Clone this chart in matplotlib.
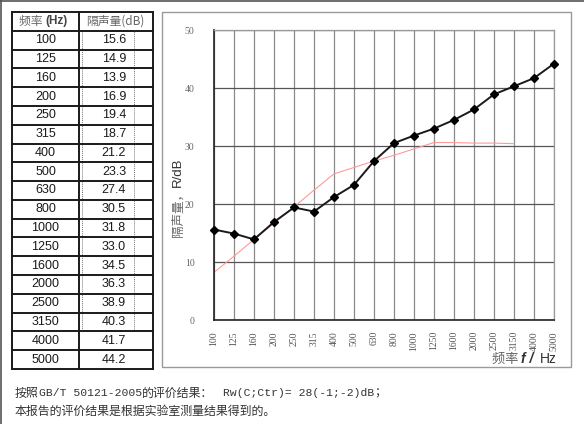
import matplotlib
matplotlib.use("Agg")
import matplotlib.pyplot as plt
from matplotlib.lines import Line2D
from matplotlib.patches import Rectangle

plt.rcParams['font.family'] = ['Noto Sans CJK SC', 'DejaVu Sans']

freq_labels = ["100", "125", "160", "200", "250", "315", "400", "500", "630",
               "800", "1000", "1250", "1600", "2000", "2500", "3150", "4000", "5000"]
insulation = [15.6, 14.9, 13.9, 16.9, 19.4, 18.7, 21.2, 23.3, 27.4,
              30.5, 31.8, 33.0, 34.5, 36.3, 38.9, 40.3, 41.7, 44.2]
reference = [8.2, 11.0, 13.9, 16.7, 19.5, 22.4, 25.2, 26.3, 27.4,
             28.4, 29.5, 30.6, 30.6, 30.5, 30.5, 30.4]
y_ticks = [0, 10, 20, 30, 40, 50]
header = ["频率 (Hz)", "隔声量(dB)"]
# bottom note segments: (text, is_latin, gap before in px)
line1_parts = [("按照", False, 0), ("GB/T 50121-2005", True, 0),
               ("的评价结果：", False, 0), ("Rw(C;Ctr)= 28(-1;-2)dB", True, 10),
               ("；", False, 0)]
line2 = "本报告的评价结果是根据实验室测量结果得到的。"

W, H = 584, 424
fig = plt.figure(figsize=(W / 100, H / 100), dpi=100)
fig.patch.set_facecolor("white")


def box(x0, y0, x1, y1):
    return [x0 / W, 1 - y1 / H, (x1 - x0) / W, (y1 - y0) / H]


def fx(x):
    return x / W


def fy(y):
    return 1 - y / H


fig.add_artist(Line2D([0, 1], [fy(0.5), fy(0.5)], color="#555555", lw=1.2))
fig.add_artist(Line2D([fx(0.5), fx(0.5)], [0, 1], color="#555555", lw=1.2))

# ---------------- table ----------------
tx0, tx1, tcol = 12, 153, 79
ty0, ty1 = 12, 369
nrows = len(freq_labels) + 1
rh = (ty1 - ty0) / nrows
tax = fig.add_axes(box(tx0, ty0, tx1, ty1))
tax.set_xlim(tx0, tx1)
tax.set_ylim(ty1, ty0)
tax.axis("off")
lc = "#1a1a1a"
for i in range(nrows + 1):
    y = ty0 + i * rh
    tax.plot([tx0, tx1], [y, y], color=lc, lw=1.4, clip_on=False)
for xx in (tx0, tcol, tx1):
    tax.plot([xx, xx], [ty0, ty1], color=lc, lw=1.4, clip_on=False)
dy1 = ty0 + rh * (nrows - 2)
tax.add_patch(Rectangle((82, ty0 + rh), 52, dy1 - ty0 - rh, fill=False,
                        ls=(0, (1, 1)), lw=0.7, ec="#777777", clip_on=False))
tax.text(45.5, ty0 + rh / 2, "频率 ", ha="right", va="center",
         fontsize=8.5, color="#666666")
tax.text(45.5, ty0 + rh / 2, "(Hz)", ha="left", va="center",
         fontsize=8.5, color="#444444", family=["Liberation Sans", "DejaVu Sans"],
         fontweight="bold")
tax.text(115, ty0 + rh / 2, header[1], ha="center", va="center",
         fontsize=8.5, color="#666666")
for i, (f, v) in enumerate(zip(freq_labels, insulation)):
    yc = ty0 + (i + 1.5) * rh
    tax.text(45.5, yc, f, ha="center", va="center", fontsize=9,
             family=["Liberation Sans", "DejaVu Sans"], color="#1a1a1a")
    tax.text(114, yc, f"{v:.1f}", ha="center", va="center", fontsize=9,
             family=["Liberation Sans", "DejaVu Sans"], color="#1a1a1a")

# ---------------- chart ----------------
fig.add_artist(Rectangle((fx(162), fy(367)), (571 - 162) / W, (367 - 12) / H,
                         transform=fig.transFigure, fill=False,
                         ec="#999999", lw=1.0))

ax = fig.add_axes(box(214, 30, 554, 320))
x = list(range(len(freq_labels)))
ax.set_xlim(0, len(freq_labels) - 1)
ax.set_ylim(0, 50)
ax.set_xticks(x)
ax.set_xticklabels(freq_labels, rotation=90, fontsize=7,
                   family=["Liberation Serif", "DejaVu Serif"], color="#555555")
ax.set_yticks(y_ticks)
ax.set_yticklabels([str(t) for t in y_ticks], fontsize=7,
                   family=["Liberation Serif", "DejaVu Serif"], color="#666666")
ax.tick_params(length=0, pad=14)
ax.tick_params(axis="x", pad=8)
for xi in x:
    ax.axvline(xi, color="#8a8a8a", lw=0.9, zorder=1)
for t in y_ticks:
    ax.axhline(t, color="#555555", lw=0.9, zorder=1)
for s in ("top", "right"):
    ax.spines[s].set_color("#999999")
    ax.spines[s].set_linewidth(0.9)
for s in ("left", "bottom"):
    ax.spines[s].set_color("#222222")
    ax.spines[s].set_linewidth(1.2)

ax.plot(range(len(reference)), reference, color="#ff9a9a", lw=0.8, zorder=2)
ax.plot(x, insulation, color="#1a1a1a", lw=1.4, marker="D", ms=4.5,
        mfc="black", mec="black", zorder=3, clip_on=False)

fig.text(fx(178), fy(187), "隔声量，", rotation=90, ha="center",
         va="top", fontsize=9, color="#666666")
fig.text(fx(178), fy(187), "R/dB", rotation=90, ha="center",
         va="bottom", fontsize=9.5, color="#333333",
         family=["Liberation Sans", "DejaVu Sans"])
fig.text(fx(557), fy(359), "Hz", ha="right", va="center", fontsize=10,
         color="#333333", family=["Liberation Sans", "DejaVu Sans"])
fig.text(fx(537), fy(359), "f / ", ha="right", va="center", fontsize=10,
         color="#333333", family=["Liberation Sans", "DejaVu Sans"],
         fontweight="bold", style="italic")
fig.text(fx(521), fy(359), "频率 ", ha="right", va="center", fontsize=9.5,
         color="#666666")

# ---------------- bottom text ----------------
renderer = fig.canvas.get_renderer()
cur = 15.0
for txt, latin, gap in line1_parts:
    cur += gap
    if latin:
        t = fig.text(fx(cur), fy(393), txt, ha="left", va="center", fontsize=8.2,
                     color="#333333", family=["Liberation Mono", "DejaVu Sans Mono"])
    else:
        t = fig.text(fx(cur), fy(393), txt, ha="left", va="center", fontsize=8.6,
                     color="#333333")
    bb = t.get_window_extent(renderer=renderer)
    cur += bb.width
fig.text(fx(15), fy(411), line2, ha="left", va="center", fontsize=8.6,
         color="#333333")

fig.savefig("out.png", dpi=100)
